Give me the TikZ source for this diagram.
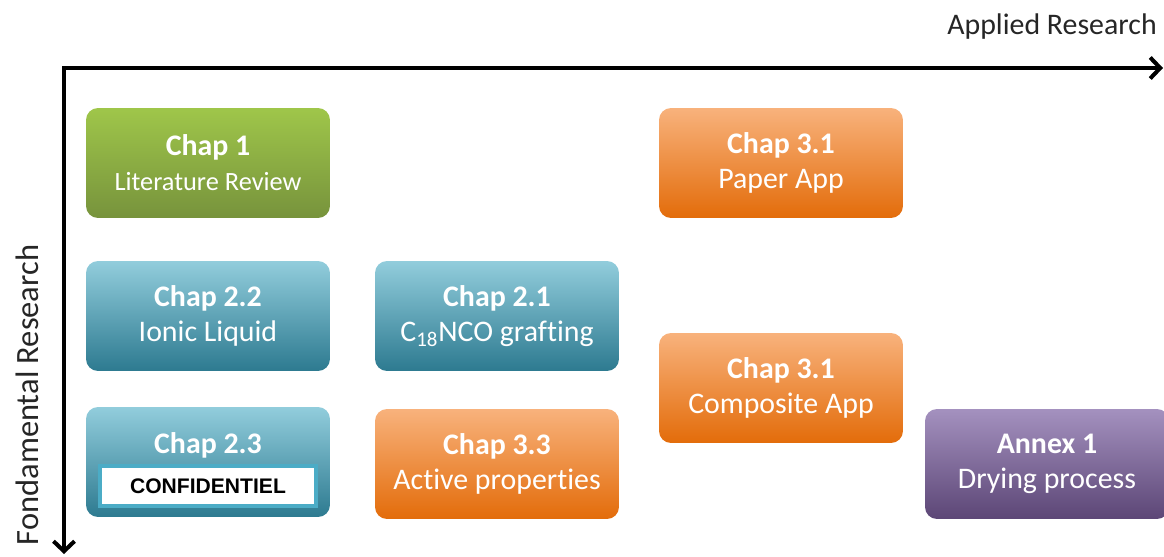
\documentclass[tikz,border=0pt]{standalone}
\usepackage{fontspec}
\setmainfont[Ligatures=NoCommon]{Carlito}
\newfontfamily\conffont{Liberation Sans}
\usetikzlibrary{arrows.meta}
\definecolor{greentop}{HTML}{9FC64A}
\definecolor{greenbot}{HTML}{77933C}
\definecolor{bluetop}{HTML}{92CDDC}
\definecolor{bluebot}{HTML}{2D7A90}
\definecolor{orangetop}{HTML}{F8B27C}
\definecolor{orangebot}{HTML}{E36C0A}
\definecolor{purpletop}{HTML}{A491BF}
\definecolor{purplebot}{HTML}{5C4676}
\definecolor{confblue}{HTML}{4BACC6}
\tikzset{
  chapbox/.style={rounded corners=0.24cm, minimum width=4.88cm, minimum height=2.2cm,
    inner sep=0pt, align=center, text=white, font=\fontsize{17}{20}\selectfont},
  greenbox/.style={chapbox, top color=greentop, bottom color=greenbot},
  bluebox/.style={chapbox, top color=bluetop, bottom color=bluebot},
  orangebox/.style={chapbox, top color=orangetop, bottom color=orangebot},
  purplebox/.style={chapbox, top color=purpletop, bottom color=purplebot},
  axis/.style={line width=2.3pt, {Straight Barb[length=0.2cm, width=0.42cm]}-{Straight Barb[length=0.2cm, width=0.42cm]}},
  axislabel/.style={font=\fontsize{17}{20}\selectfont, text=black!85}
}
\begin{document}
\begin{tikzpicture}[x=0.02cm, y=-0.02cm]
  \useasboundingbox (0,0) rectangle (1164,557);
  % axes
  \coordinate (O) at (64,68);
  \coordinate (xend) at (1163,68);
  \coordinate (yend) at (64,554);
  \draw[axis] (yend) -- (O) -- (xend);
  \node[axislabel] (applied) at (1052,27) {Applied Research};
  \node[axislabel, rotate=90, font=\fontsize{18.5}{21}\selectfont] (fond) at (27,395) {Fondamental Research};
  % chapters
  \node[greenbox] (chap1) at (208,163) {\textbf{Chap 1}\\{\fontsize{15}{18}\selectfont Literature Review}};
  \node[bluebox] (chap22) at (208,316) {\textbf{Chap 2.2}\\Ionic Liquid};
  \node[bluebox] (chap23) at (208,462) {};
  \node[text=white, font=\fontsize{17}{20}\selectfont\bfseries] (chap23title) at (208,445) {Chap 2.3};
  \node[fill=white, draw=confblue, line width=2pt, minimum width=4.32cm, minimum height=0.8cm,
    font=\conffont\bfseries\fontsize{12}{14}\selectfont] (conf) at (208,486) {CONFIDENTIEL};
  \node[bluebox] (chap21) at (497,316) {\textbf{Chap 2.1}\\C\textsubscript{18}NCO grafting};
  \node[orangebox] (chap33) at (497,464) {\textbf{Chap 3.3}\\Active properties};
  \node[orangebox] (chap31a) at (781,163) {\textbf{Chap 3.1}\\Paper App};
  \node[orangebox] (chap31b) at (781,388) {\textbf{Chap 3.1}\\Composite App};
  \node[purplebox] (annex1) at (1047,464) {\textbf{Annex 1}\\Drying process};
\end{tikzpicture}
\end{document}
